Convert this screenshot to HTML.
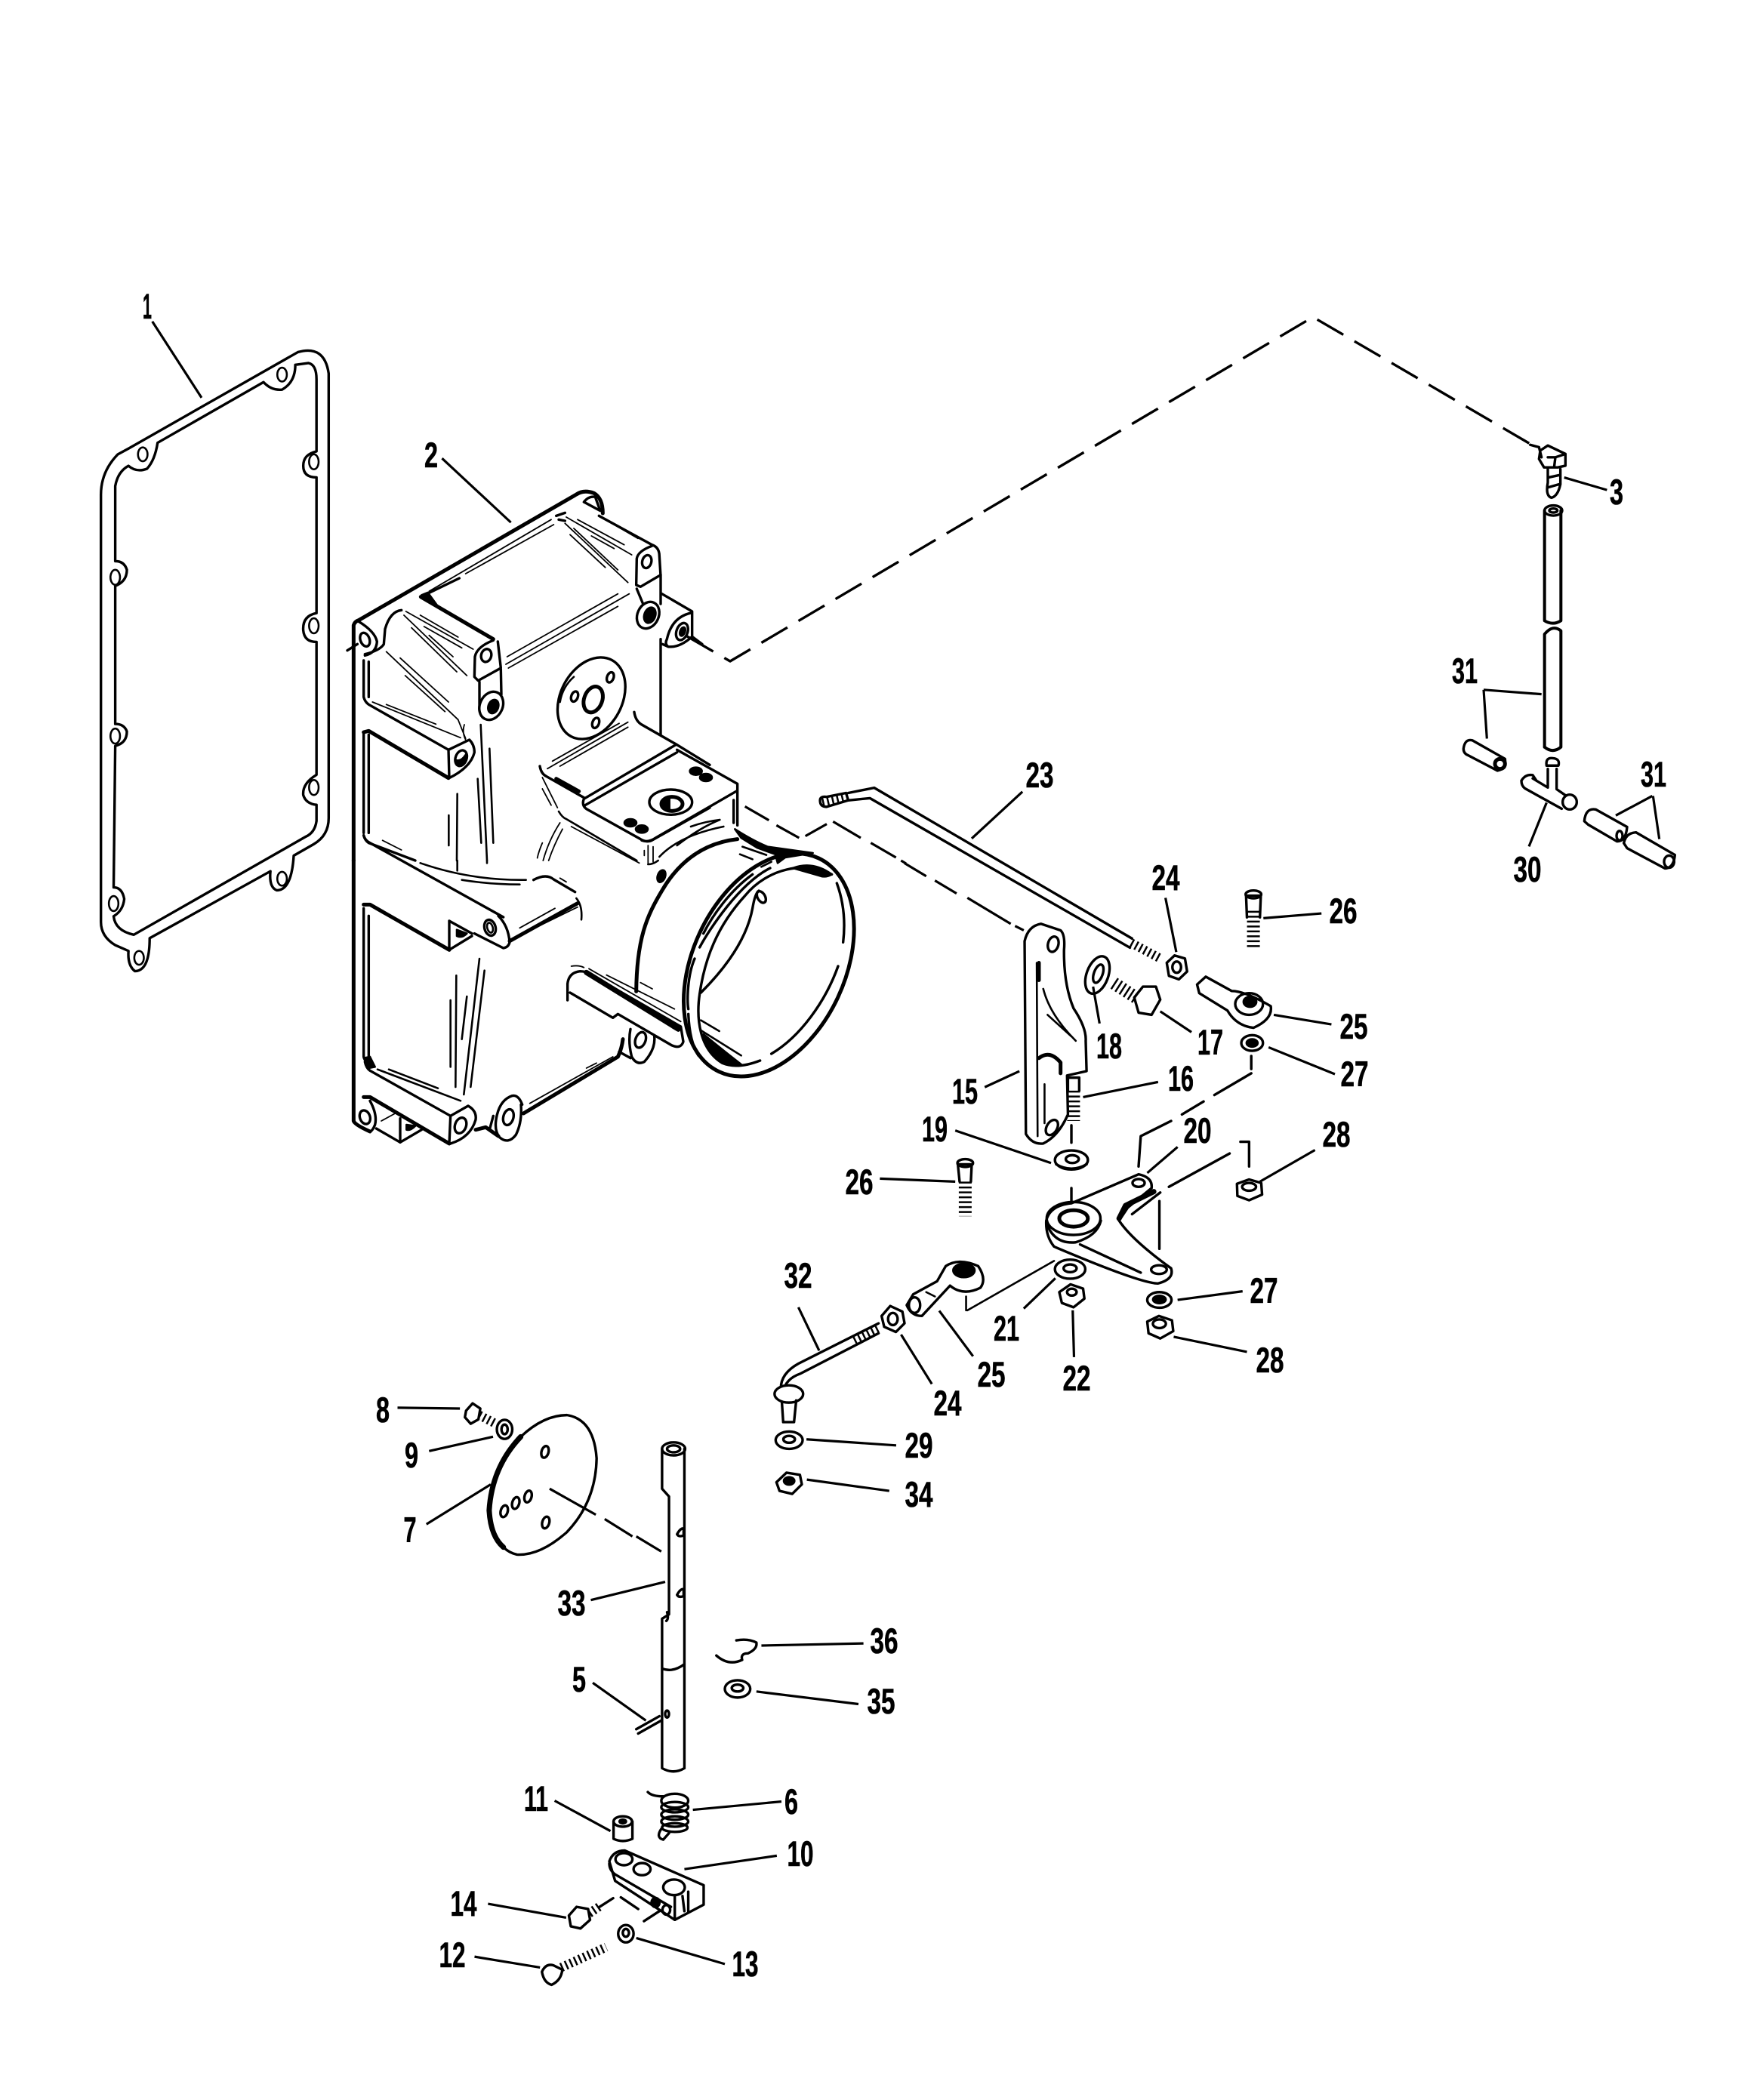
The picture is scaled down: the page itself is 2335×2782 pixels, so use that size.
<!DOCTYPE html>
<html><head><meta charset="utf-8"><style>
html,body{margin:0;padding:0;background:#fff}
svg{display:block}
path,ellipse,line{vector-effect:non-scaling-stroke;fill:none;stroke:#000;stroke-width:2.6;stroke-linecap:round;stroke-linejoin:round}
.t{stroke-width:1.8}
.m{stroke-width:3.4}
.n{stroke-width:4}
.b{stroke-width:5}
.x{stroke-width:7}
.w{fill:#fff}
.k{fill:#000}
.l{stroke-width:3.2;stroke-linecap:butt}
.h{stroke-width:12;stroke-dasharray:2.5 4;stroke-linecap:butt}
.s{stroke-width:17;stroke-dasharray:2.5 4;stroke-linecap:butt}
text{font-family:"Liberation Sans Narrow","Liberation Sans",sans-serif;font-weight:bold;font-size:47px;text-anchor:middle;fill:#000;stroke:#000;stroke-width:.6}
</style></head><body>
<svg width="2335" height="2782" viewBox="0 0 2335 2782" xmlns="http://www.w3.org/2000/svg">
<rect width="2335" height="2782" fill="#fff"/>
<g transform="translate(100 380) scale(.7015 .765)">
<path class="m" d="M420 113Q470 100 478 150L478 920Q478 950 450 965L412 985Q408 1045 380 1045Q365 1040 368 1012L140 1128Q140 1185 112 1185Q98 1175 100 1150L75 1140Q48 1125 48 1100L48 360Q48 320 80 290L100 280Z"/>
<path class="m" d="M355 165Q370 180 390 178Q415 165 415 135L440 132Q455 135 455 160L455 285Q430 290 430 310Q430 330 455 330L455 565Q428 570 430 595Q432 615 455 615L455 845Q428 860 430 880Q435 895 455 897L455 925Q452 945 435 952L110 1122Q75 1115 72 1090Q90 1080 92 1060Q88 1040 72 1040L75 795Q97 790 97 770Q92 757 75 757L75 518Q97 510 97 490Q92 475 75 475L75 345Q80 320 100 310Q115 322 135 315Q150 300 155 270Z"/>
<ellipse cx="390" cy="152" rx="9" ry="12"/><ellipse cx="127" cy="290" rx="9" ry="12"/><ellipse cx="450" cy="303" rx="9" ry="13"/><ellipse cx="450" cy="587" rx="9" ry="13"/><ellipse cx="450" cy="867" rx="9" ry="13"/><ellipse cx="390" cy="1025" rx="9" ry="12"/><ellipse cx="120" cy="1162" rx="9" ry="12"/><ellipse cx="72" cy="1068" rx="9" ry="13"/><ellipse cx="75" cy="778" rx="9" ry="13"/><ellipse cx="75" cy="503" rx="9" ry="13"/>
<path class="l" d="M145 60L238 192M692 297L822 408"/>
</g>
<g transform="translate(440 640) scale(.33333)">
<path class="b" d="M85 1500L85 565Q90 550 105 545L970 45Q1000 25 1040 40Q1075 60 1075 120"/>
<path class="m" d="M1000 75Q1020 50 1045 55L1065 110Z"/>
<path class="m" d="M1060 130L1270 245Q1300 255 1300 290L1305 370L1305 480M1305 620L1305 1000"/>
<path class="m" d="M1310 440L1430 510L1430 610Q1380 655 1335 650L1312 640M1430 515Q1350 530 1330 620Q1320 640 1335 650M1430 610L1470 640"/>
<ellipse class="m" cx="1390" cy="590" rx="22" ry="35" transform="rotate(20 1390 590)"/><ellipse class="k" cx="1392" cy="590" rx="10" ry="18" transform="rotate(20 1392 590)"/>
<path class="m" d="M1270 250Q1215 270 1210 300L1208 405L1225 412L1305 365M1210 420L1235 480"/>
<ellipse class="m" cx="1250" cy="312" rx="18" ry="26" transform="rotate(15 1250 312)"/>
<ellipse class="m w" cx="1255" cy="525" rx="42" ry="55" transform="rotate(25 1255 525)"/><ellipse class="k" cx="1262" cy="525" rx="22" ry="32" transform="rotate(20 1262 525)"/>
<path class="m" d="M640 625Q575 650 567 690L565 770L580 785L670 735L658 630M585 790L585 900M670 740L672 840"/>
<ellipse class="m" cx="612" cy="685" rx="20" ry="26" transform="rotate(15 612 685)"/>
<ellipse class="m w" cx="632" cy="885" rx="45" ry="58" transform="rotate(25 632 885)"/><ellipse class="k" cx="640" cy="888" rx="20" ry="28" transform="rotate(20 640 888)"/>
<path class="m" d="M352 452L505 378"/><path class="t" d="M385 430L870 145"/><path class="t" d="M530 360L880 165"/>
<path class="b" d="M352 452L640 620"/><path class="k" d="M355 445L380 435L420 490L380 470Z"/>
<path class="t" d="M1060 130L1215 220M975 145L1160 245M930 135L1190 285M1030 210L1120 260M945 205L1085 335M925 160L1175 395M960 180L1135 345M695 690L1135 440M690 720L1180 440M700 735L1135 490"/>
<path class="m" d="M890 130L925 118M900 145L925 150"/>
<path class="m" d="M105 550Q170 590 178 630Q175 675 130 685M60 665L100 640M275 505Q230 510 210 580L205 640Q190 665 130 680"/>
<ellipse class="m" cx="130" cy="622" rx="18" ry="28" transform="rotate(-20 130 622)"/>
<path class="t" d="M293 510L560 660M350 525L500 612M365 570L515 655M285 525L535 765M315 575L495 750M385 605L480 690M215 670L500 940M270 695L462 870M290 765L448 908"/>
<path class="m" d="M125 705L125 850M145 710L145 850M125 850Q130 870 145 880L462 1060M462 1060L465 1172M462 1060L545 1020Q565 1040 565 1070Q550 1130 465 1172"/>
<path class="t" d="M160 870L510 1012M215 880L412 958M500 940Q520 990 530 1015M525 960Q515 990 530 1020"/>
<ellipse class="m" cx="512" cy="1093" rx="22" ry="32" transform="rotate(20 512 1093)"/>
<path class="k" d="M490 1100Q510 1110 530 1080Q525 1125 505 1125Q490 1120 490 1100Z"/>
<path class="b" d="M125 990L145 985L462 1172"/>
<path class="m" d="M125 990L125 1390M145 1000L145 1390M125 1400Q130 1420 145 1430L330 1500"/>
<path class="t" d="M200 1420L275 1458"/>
<path d="M590 960L615 1500M625 1055L640 1430M578 1175L592 1430M497 1235L495 1500M463 1320L463 1440"/>
<ellipse class="m" cx="1030" cy="855" rx="122" ry="172" transform="rotate(28 1030 855)"/>
<path d="M905 870Q915 810 960 770"/>
<ellipse class="m" cx="1105" cy="772" rx="13" ry="21" transform="rotate(20 1105 772)"/><ellipse class="m" cx="963" cy="848" rx="13" ry="21" transform="rotate(20 963 848)"/><ellipse class="m" cx="1047" cy="953" rx="13" ry="21" transform="rotate(20 1047 953)"/>
<ellipse class="b" cx="1037" cy="860" rx="36" ry="53" transform="rotate(20 1037 860)"/>
<path class="t" d="M875 1105L1140 955M905 1125L1175 970M855 1135L1175 950"/>
<path class="m" d="M1200 910Q1205 945 1230 960L1370 1040L1500 1120M1365 1040L1000 1255Q990 1280 1010 1295L1225 1415Q1250 1430 1270 1420L1500 1290M1370 1070L1005 1280M825 1125Q830 1155 850 1165L1000 1250"/>
<path class="b" d="M890 1175L980 1225"/>
<path class="t" d="M835 1170L895 1290M835 1215L870 1280M950 1365L1220 1510M905 1350Q860 1420 838 1500M915 1375Q880 1440 860 1500M835 1430Q820 1465 815 1490"/>
<path d="M900 1305Q915 1330 930 1335L1210 1500"/>
<ellipse class="k" cx="1445" cy="1145" rx="24" ry="15"/><ellipse class="k" cx="1485" cy="1170" rx="24" ry="15"/><ellipse class="k" cx="1185" cy="1350" rx="24" ry="15"/><ellipse class="k" cx="1230" cy="1375" rx="24" ry="15"/>
<ellipse class="m" cx="1345" cy="1268" rx="85" ry="50"/><ellipse class="b" cx="1350" cy="1275" rx="42" ry="28"/><path class="k" d="M1310 1270L1340 1255L1340 1295Q1312 1295 1310 1270Z"/>
</g>
<g transform="translate(440 1100) scale(.33333)">
<path class="b" d="M85 120L85 1155Q90 1170 150 1197"/>
<path class="m" d="M125 20Q130 40 150 50L680 345M660 340Q700 380 705 445Q700 465 680 468L565 410"/>
<path class="b" d="M705 440L975 290"/>
<path class="t" d="M745 388L885 310M720 430L975 305M905 190L930 205"/>
<path d="M350 130Q550 200 770 197M515 197Q630 215 745 215"/>
<path class="m" d="M800 197Q850 170 880 195L965 245"/>
<path d="M970 270Q995 300 990 355"/>
<ellipse class="m" cx="627" cy="387" rx="22" ry="32" transform="rotate(-15 627 387)"/><ellipse cx="627" cy="387" rx="11" ry="20" transform="rotate(-15 627 387)"/>
<path class="b" d="M125 295L150 295L465 475"/>
<path class="m" d="M465 360L465 475L555 420M465 360L555 410"/>
<path class="k" d="M495 395L535 410Q515 430 495 420Z"/>
<path class="m" d="M125 310L125 900M145 340L145 900"/>
<path class="m" d="M130 920Q135 945 150 955L470 1135L465 1245"/>
<path class="k" d="M125 905L150 900L170 940L145 945Z"/>
<path d="M180 950L510 1075M225 950L420 1025"/>
<path class="m" d="M470 1135L540 1095Q575 1115 570 1150Q550 1220 470 1245"/>
<path class="b" d="M125 1060L150 1060L465 1245"/>
<ellipse class="m" cx="510" cy="1173" rx="22" ry="32" transform="rotate(20 510 1173)"/>
<ellipse class="m" cx="130" cy="1140" rx="20" ry="28" transform="rotate(-20 130 1140)"/>
<path class="m" d="M150 1075Q180 1130 170 1170Q160 1195 150 1197M175 1185L270 1240L355 1190M270 1145L270 1240"/>
<path class="t" d="M195 1155L250 1125"/>
<path class="k" d="M295 1170L330 1175Q310 1195 295 1190Z"/>
<path class="b" d="M570 1190L610 1180L660 1215"/>
<path class="m" d="M640 1135L625 1190M755 1090Q740 1050 715 1055Q670 1070 655 1130Q640 1190 665 1220Q700 1250 730 1210Q755 1160 750 1090M1185 790Q1175 840 1190 900Q1210 935 1240 920Q1285 870 1280 820M1140 880L1185 905"/>
<ellipse class="m" cx="700" cy="1140" rx="20" ry="32" transform="rotate(15 700 1140)"/>
<path class="b" d="M760 1125L1135 900Q1150 870 1155 830"/>
<path class="t" d="M785 1085L1115 900M1010 945L1050 925"/>
<ellipse class="m" cx="1225" cy="833" rx="20" ry="32" transform="rotate(20 1225 833)"/>
<path d="M585 510L523 1050M605 557L550 1020M493 577L490 1020M470 675L470 940M535 660L515 830M497 120L497 160M615 120L615 130"/>
<path class="m w" d="M935 675L935 610Q940 565 985 560Q1010 560 1030 575L1385 780L1395 840Q1385 870 1350 855L1135 730L1115 745L945 645"/>
<path class="x" d="M1010 565L1375 790"/>
<path class="t" d="M950 540Q980 535 1000 545M1020 550L1385 760M1090 575L1360 710M1225 605L1272 630"/>
</g>
<g transform="translate(800 950) scale(.33333)">
<path class="m" d="M290 130L530 265L530 430M525 295L205 480Q175 500 150 490M515 330L515 420"/>
<path class="t" d="M175 510L175 580M195 515L195 575M160 530L160 550"/>
<path d="M175 585Q195 585 215 570"/>
<path class="b" d="M530 485C400 500 300 570 230 690C170 790 130 880 128 1090"/>
<path d="M220 555Q300 470 475 435M290 510Q380 440 460 408M345 435Q400 415 460 408"/>
<ellipse class="k" cx="228" cy="632" rx="15" ry="25" transform="rotate(20 228 632)"/>
<path class="k" d="M520 445Q590 490 650 515L830 540L720 558L690 580L680 545L610 520L545 480Z"/>
<ellipse class="b" cx="655" cy="985" rx="303" ry="468" transform="rotate(25 655 985)"/>
<path class="m" d="M665 1338C780 1270 880 1130 930 990M950 895Q965 770 925 660M905 625C800 570 650 600 560 710C450 830 400 960 380 1100C365 1200 380 1320 470 1375Q530 1400 620 1365"/>
<path class="k" d="M750 600Q830 570 905 625Q880 640 855 630Z"/>
<path class="k" d="M395 1260Q410 1340 470 1375L545 1380Q480 1330 395 1260Z"/>
<path class="m" d="M660 600C540 660 420 840 380 915M360 960C330 1030 330 1130 335 1160M335 1180Q340 1290 375 1345M590 625C500 690 430 790 395 860"/>
<path d="M550 515L645 548M540 545L590 565M625 595L665 575M385 1205L458 1248M385 1245L545 1345"/>
<path class="m" d="M615 690Q600 700 590 760Q560 920 385 1095"/>
<ellipse class="m w" cx="625" cy="715" rx="15" ry="25" transform="rotate(-30 625 715)"/>
<path class="l" d="M560 355L655 410M685 430L775 480M800 473L885 425M910 415L1020 480M1060 500L1160 558M1180 570L1200 582"/>
</g>
<path class="m" stroke-dasharray="40 17" style="stroke-linecap:butt" d="M910 843L967 876L1739 420L2030 590"/>
<g transform="translate(1000 1000) scale(.574)">
<path class="m" d="M215 88L275 76L870 424M215 105L265 100L865 445"/>
<path class="m" d="M150 105Q150 95 165 97L210 88L215 105L165 120Q150 120 150 105Z"/>
<path class="h" d="M155 109L212 96M868 434L935 470"/>
<path class="l" d="M345 250L395 280M415 290L465 320M490 330L590 390M600 395L620 405"/>
<path class="m w" d="M622 430Q630 395 660 390L705 405Q716 415 713 450Q712 530 735 585Q765 630 763 660L765 730L720 740L722 830Q700 880 665 897Q640 900 625 875Z"/>
<path d="M650 480L652 880M665 540Q680 600 740 660M675 600L730 650M668 760L668 850"/>
<path class="b" d="M655 480L655 520M655 700Q680 680 705 710L705 735"/>
<ellipse class="m" cx="688" cy="437" rx="12" ry="18" transform="rotate(15 688 437)"/><ellipse class="m" cx="685" cy="860" rx="12" ry="19" transform="rotate(30 685 860)"/>
<path class="m" d="M722 745L748 745L748 775M722 745L722 775"/><path class="s" d="M735 775L735 845"/>
<path class="m" d="M730 855L730 895M730 1000L730 1040"/>
<ellipse class="m" cx="730" cy="935" rx="38" ry="22"/><ellipse class="m" cx="732" cy="933" rx="15" ry="9"/><path class="m" d="M695 945Q730 965 765 945"/>
<ellipse class="m" cx="790" cy="508" rx="25" ry="45" transform="rotate(20 790 508)"/><ellipse class="m" cx="792" cy="505" rx="10" ry="22" transform="rotate(20 792 505)"/>
<path class="m" d="M875 560L895 535L925 535L935 565L915 600L885 595Z"/><path class="s" d="M828 527L882 562"/>
<path class="m" d="M950 480L968 463L992 470L997 500L978 518L955 510Z"/><ellipse class="m" cx="973" cy="490" rx="10" ry="13"/>
<path class="m" d="M1020 530L1040 512L1100 545Q1130 545 1190 580Q1195 610 1150 630Q1110 625 1090 590L1025 550Z"/>
<ellipse class="m" cx="1140" cy="575" rx="32" ry="25"/><ellipse class="k" cx="1142" cy="570" rx="15" ry="12"/>
<ellipse class="m" cx="1147" cy="665" rx="25" ry="18"/><ellipse class="k" cx="1147" cy="665" rx="13" ry="9"/>
<path class="m" d="M1133 325L1167 325L1165 375M1133 325L1135 375"/><ellipse class="m" cx="1150" cy="322" rx="18" ry="9"/><path class="s" d="M1150 360L1150 445"/>
<path class="m" d="M468 945L500 945L498 985M468 945L472 985"/><ellipse class="m" cx="485" cy="942" rx="18" ry="9"/><path class="s" d="M485 985L485 1065"/>
<path class="l" d="M500 193L617 85M947 330L972 455M1173 377L1307 366M1197 600L1330 622M1185 675L1338 737M780 535L795 620M935 592L1007 640M757 790L930 755M530 767L610 730M462 867L683 942M905 965L975 905M1165 985L1292 912M288 978L462 985M975 1258L1125 1238M966 1343L1135 1378M620 1278L693 1208M733 1282L736 1390M425 1283L503 1388M337 1338L408 1452M100 1275L148 1375"/>
<path class="m" d="M1145 695L1145 725M1145 735L1060 785M1035 800L985 830M960 845L890 880L885 950"/>
<path class="m" d="M1095 920L955 997M935 1010L870 1060M795 1105L840 1080M1120 893L1140 893L1140 950M933 1030L933 1140"/>
<path d="M490 1282L690 1168M487 1282L487 1250"/>
<path class="m w" d="M730 1035L885 968Q918 975 915 1000L860 1045L840 1075Q870 1120 960 1185Q968 1210 930 1220Q890 1220 690 1135Q670 1110 672 1075Q680 1040 730 1035Z"/>
<ellipse class="m" cx="735" cy="1070" rx="62" ry="38"/><ellipse class="b" cx="735" cy="1070" rx="33" ry="19"/>
<path class="m" d="M672 1080Q690 1130 740 1125Q790 1110 798 1075M750 1130L890 1195"/>
<path class="x" d="M840 1070L855 1040L920 1008"/>
<ellipse class="m" cx="885" cy="988" rx="14" ry="9"/><ellipse class="m" cx="932" cy="1188" rx="18" ry="10"/>
<ellipse class="m" cx="727" cy="1187" rx="35" ry="22"/><ellipse class="m" cx="727" cy="1185" rx="15" ry="9"/>
<path class="m" d="M702 1240L728 1222L757 1232L760 1255L735 1275L708 1265Z"/><ellipse class="m" cx="731" cy="1240" rx="11" ry="8"/>
<ellipse class="m" cx="933" cy="1258" rx="28" ry="18"/><ellipse class="k" cx="933" cy="1257" rx="15" ry="9"/>
<path class="m" d="M905 1308L932 1295L962 1305L965 1330L935 1347L908 1335Z"/><ellipse class="m" cx="933" cy="1313" rx="15" ry="10"/>
<path class="m" d="M1112 990L1140 980L1168 988L1170 1015L1140 1028L1113 1018Z"/><ellipse class="m" cx="1140" cy="997" rx="16" ry="9"/>
<path class="m" d="M440 1180Q470 1160 515 1180Q535 1210 520 1230Q480 1250 450 1225L385 1295Q360 1295 350 1270L365 1245L420 1215Z"/>
<ellipse class="k" cx="482" cy="1190" rx="25" ry="16"/><ellipse class="m" cx="368" cy="1270" rx="13" ry="18"/><path d="M395 1240L415 1250"/>
<path class="m" d="M292 1295L312 1272L340 1285L345 1312L325 1332L298 1320Z"/><ellipse class="m" cx="318" cy="1302" rx="11" ry="14"/>
<path class="m" d="M285 1335L105 1428Q70 1440 65 1470M285 1312L100 1405Q55 1430 60 1470"/>
<path class="h" d="M228 1350L285 1322"/>
<ellipse class="m w" cx="78" cy="1475" rx="33" ry="20"/>
<path class="m" d="M62 1495L65 1540L90 1540L95 1490"/>
</g>
<g transform="translate(450 1800) scale(.51 .574)">
<path class="m" d="M590 130Q660 140 667 230Q665 330 590 400Q520 455 460 452Q400 440 388 350Q395 250 470 180Q530 130 590 130Z"/>
<path class="x" d="M470 180Q395 250 388 350Q392 410 425 435"/>
<ellipse class="m" cx="533" cy="215" rx="9" ry="14" transform="rotate(20 533 215)"/><ellipse class="m" cx="427" cy="352" rx="9" ry="14" transform="rotate(20 427 352)"/><ellipse class="m" cx="457" cy="333" rx="9" ry="14" transform="rotate(20 457 333)"/><ellipse class="m" cx="489" cy="318" rx="9" ry="14" transform="rotate(20 489 318)"/><ellipse class="m" cx="535" cy="378" rx="9" ry="14" transform="rotate(20 535 378)"/>
<path class="m" d="M328 120L345 103L365 115L360 140L340 150L325 135Z"/><path class="h" d="M362 130L405 150"/>
<ellipse class="m" cx="428" cy="163" rx="20" ry="22"/><ellipse class="m" cx="428" cy="163" rx="8" ry="11"/>
<path class="l" d="M545 300L665 360M688 370L760 410M770 410L835 445"/>
<ellipse class="m" cx="867" cy="208" rx="30" ry="15"/><ellipse class="m" cx="867" cy="208" rx="17" ry="8"/>
<path class="m" d="M895 208L895 945M837 208L837 300L855 318L855 590L837 600L837 945Q867 960 895 945M837 715Q865 725 895 705M850 585Q855 600 848 605"/>
<path class="m" d="M876 405Q885 390 893 392L893 408Q880 412 876 405M876 545Q885 530 893 532L893 548Q880 552 876 545"/>
<ellipse class="m" cx="850" cy="820" rx="5" ry="8"/>
<path class="m" d="M770 855L830 825M775 865L835 835"/>
<path class="l" d="M150 113L312 115M232 213L398 180M225 382L392 290M652 557L845 515M657 748L795 835M1095 662L1360 657M1082 768L1347 797M917 1041L1147 1022M558 1020L703 1090M895 1178L1135 1147M385 1258L588 1290M350 1380L520 1405M770 1337L1000 1397M1212 186L1445 200M1213 279L1427 305"/>
<path class="m" d="M978 685Q1010 710 1045 695Q1040 680 1060 680Q1085 670 1082 655Q1060 645 1030 650"/>
<ellipse class="m" cx="1033" cy="762" rx="33" ry="20"/><ellipse class="m" cx="1033" cy="760" rx="15" ry="8"/>
<ellipse class="m" cx="1167" cy="188" rx="35" ry="20"/><ellipse class="m" cx="1167" cy="186" rx="15" ry="8"/>
<path class="m" d="M1134 285L1160 263L1195 268L1200 290L1175 312L1142 305Z"/><ellipse class="k" cx="1167" cy="282" rx="14" ry="9"/>
<ellipse class="m" cx="870" cy="1020" rx="35" ry="16"/><ellipse class="m" cx="870" cy="1035" rx="35" ry="12"/><ellipse class="m" cx="870" cy="1052" rx="35" ry="12"/><ellipse class="m" cx="870" cy="1068" rx="35" ry="12"/><ellipse class="m" cx="870" cy="1082" rx="33" ry="10"/>
<path class="m" d="M800 1000Q810 1010 840 1010M835 1085Q820 1105 840 1110L855 1095"/>
<ellipse class="m" cx="735" cy="1068" rx="24" ry="12"/><ellipse class="k" cx="735" cy="1068" rx="9" ry="5"/>
<path class="m" d="M711 1068L711 1108Q735 1118 760 1108L760 1068"/>
<path class="m" d="M700 1160Q710 1135 740 1135L945 1215L945 1260L870 1295L715 1205Z"/>
<path class="m" d="M870 1240L870 1295M700 1165Q700 1180 715 1190L860 1265M890 1240L895 1275M905 1230L905 1275"/>
<ellipse class="m" cx="738" cy="1155" rx="22" ry="14"/><ellipse class="m" cx="785" cy="1178" rx="22" ry="14"/><ellipse class="m" cx="868" cy="1220" rx="28" ry="18"/>
<ellipse class="k" cx="820" cy="1255" rx="11" ry="11"/><ellipse class="m" cx="848" cy="1272" rx="10" ry="11"/>
<path class="m" d="M730 1243L775 1270M790 1298L830 1275M675 1265L710 1245"/>
<path class="m" d="M595 1285L615 1265L645 1270L650 1295L625 1315L600 1310Z"/><path class="h" d="M648 1280L678 1262"/>
<path class="m" d="M525 1415Q535 1395 555 1400L578 1410Q575 1435 550 1445Q530 1440 525 1415Z"/><path class="h" d="M575 1405L692 1358"/>
<ellipse class="m" cx="743" cy="1327" rx="20" ry="20"/><ellipse class="m" cx="743" cy="1325" rx="8" ry="9"/>
</g>
<g transform="translate(1850 550) scale(.33333 .4464)">
<path class="m" d="M570 105L600 90L670 115L670 150L640 155L585 155L565 130ZM600 125L630 125L670 115M630 125L625 155M530 88L565 95L575 125"/>
<path class="m" d="M600 160L600 200Q590 240 615 245Q640 240 650 205L650 160M602 185L645 178M598 215L645 205"/>
<ellipse class="m" cx="622" cy="283" rx="35" ry="15"/><ellipse class="m" cx="622" cy="283" rx="16" ry="6"/>
<path class="n" d="M587 283L587 610Q620 625 652 610L652 283M587 985L587 650Q620 620 652 640L652 985Q620 1005 587 985"/>
<path class="l" d="M665 185L835 222M345 815L575 828M345 815L358 960M595 1150L525 1280M1015 1130L870 1188M1018 1130L1043 1258"/>
<path class="m" d="M265 990Q270 960 300 965L430 1020Q435 1050 400 1055L285 1010Q265 1005 265 990Z"/>
<ellipse class="b" cx="410" cy="1035" rx="20" ry="15"/>
<path class="m" d="M595 1040Q590 1015 620 1018Q650 1020 642 1040Z"/>
<path class="m" d="M600 1050L600 1105L540 1078M635 1050L635 1110L670 1128M495 1085Q510 1065 540 1068L555 1085M510 1108L655 1168M495 1085Q495 1100 510 1108"/>
<ellipse class="m" cx="687" cy="1148" rx="28" ry="22"/>
<path class="m" d="M745 1205Q750 1165 790 1170L915 1222Q910 1265 875 1265L760 1215Z"/><ellipse class="m" cx="885" cy="1248" rx="12" ry="14"/>
<path class="m" d="M902 1270Q910 1240 950 1238L1105 1305Q1100 1345 1065 1345L915 1285Z"/><ellipse class="m" cx="1082" cy="1325" rx="20" ry="18"/>
</g>
<text x="195" y="422" textLength="12" lengthAdjust="spacingAndGlyphs">1</text>
<text x="571" y="619" textLength="18" lengthAdjust="spacingAndGlyphs">2</text>
<text x="2141" y="668" textLength="18" lengthAdjust="spacingAndGlyphs">3</text>
<text x="1940" y="905" textLength="34" lengthAdjust="spacingAndGlyphs">31</text>
<text x="2190" y="1042" textLength="34" lengthAdjust="spacingAndGlyphs">31</text>
<text x="2023" y="1168" textLength="37" lengthAdjust="spacingAndGlyphs">30</text>
<text x="1377" y="1043" textLength="37" lengthAdjust="spacingAndGlyphs">23</text>
<text x="1544" y="1179" textLength="37" lengthAdjust="spacingAndGlyphs">24</text>
<text x="1779" y="1223" textLength="37" lengthAdjust="spacingAndGlyphs">26</text>
<text x="1793" y="1376" textLength="37" lengthAdjust="spacingAndGlyphs">25</text>
<text x="1469" y="1402" textLength="34" lengthAdjust="spacingAndGlyphs">18</text>
<text x="1603" y="1397" textLength="34" lengthAdjust="spacingAndGlyphs">17</text>
<text x="1794" y="1439" textLength="37" lengthAdjust="spacingAndGlyphs">27</text>
<text x="1564" y="1445" textLength="34" lengthAdjust="spacingAndGlyphs">16</text>
<text x="1278" y="1462" textLength="34" lengthAdjust="spacingAndGlyphs">15</text>
<text x="1238" y="1512" textLength="34" lengthAdjust="spacingAndGlyphs">19</text>
<text x="1586" y="1514" textLength="37" lengthAdjust="spacingAndGlyphs">20</text>
<text x="1770" y="1519" textLength="37" lengthAdjust="spacingAndGlyphs">28</text>
<text x="1138" y="1582" textLength="37" lengthAdjust="spacingAndGlyphs">26</text>
<text x="1057" y="1706" textLength="37" lengthAdjust="spacingAndGlyphs">32</text>
<text x="1674" y="1726" textLength="37" lengthAdjust="spacingAndGlyphs">27</text>
<text x="1333" y="1776" textLength="34" lengthAdjust="spacingAndGlyphs">21</text>
<text x="1313" y="1837" textLength="37" lengthAdjust="spacingAndGlyphs">25</text>
<text x="1426" y="1842" textLength="37" lengthAdjust="spacingAndGlyphs">22</text>
<text x="1682" y="1818" textLength="37" lengthAdjust="spacingAndGlyphs">28</text>
<text x="1255" y="1875" textLength="37" lengthAdjust="spacingAndGlyphs">24</text>
<text x="507" y="1884" textLength="18" lengthAdjust="spacingAndGlyphs">8</text>
<text x="545" y="1944" textLength="18" lengthAdjust="spacingAndGlyphs">9</text>
<text x="1217" y="1931" textLength="37" lengthAdjust="spacingAndGlyphs">29</text>
<text x="1217" y="1996" textLength="37" lengthAdjust="spacingAndGlyphs">34</text>
<text x="543" y="2043" textLength="17" lengthAdjust="spacingAndGlyphs">7</text>
<text x="757" y="2140" textLength="37" lengthAdjust="spacingAndGlyphs">33</text>
<text x="1171" y="2190" textLength="37" lengthAdjust="spacingAndGlyphs">36</text>
<text x="767" y="2241" textLength="18" lengthAdjust="spacingAndGlyphs">5</text>
<text x="1167" y="2270" textLength="37" lengthAdjust="spacingAndGlyphs">35</text>
<text x="710" y="2399" textLength="32" lengthAdjust="spacingAndGlyphs">11</text>
<text x="1048" y="2403" textLength="18" lengthAdjust="spacingAndGlyphs">6</text>
<text x="1060" y="2472" textLength="35" lengthAdjust="spacingAndGlyphs">10</text>
<text x="614" y="2538" textLength="35" lengthAdjust="spacingAndGlyphs">14</text>
<text x="599" y="2606" textLength="35" lengthAdjust="spacingAndGlyphs">12</text>
<text x="987" y="2618" textLength="35" lengthAdjust="spacingAndGlyphs">13</text>
</svg>
</body></html>
